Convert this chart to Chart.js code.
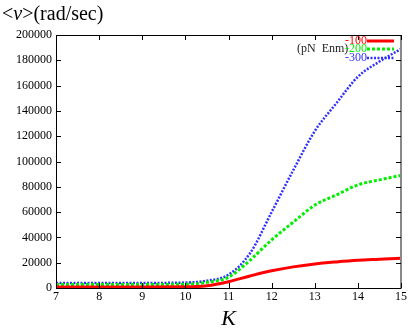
<!DOCTYPE html>
<html>
<head>
<meta charset="utf-8">
<script src="https://cdn.jsdelivr.net/npm/chart.js@4"></script>
<style>
  html, body { margin: 0; padding: 0; background: #fff; }
  #wrap { width: 409px; height: 336px; }
</style>
</head>
<body>
<div id="wrap"><canvas id="c" width="409" height="336"></canvas></div>
<script>
// values
const kValues = [7, 8, 9, 10, 10.5, 11, 11.5, 12, 12.5, 13, 13.5, 14, 14.5, 15];
const torque100 = [800, 800, 800, 900, 1800, 5000, 9500, 13600, 16700, 19000, 20600, 21900, 22700, 23500];
const torque200 = [2800, 2800, 2800, 3000, 4500, 8500, 22000, 38000, 52000, 65500, 73500, 81500, 85500, 89000];
const torque300 = [4000, 4000, 4000, 4300, 5800, 10500, 27500, 60000, 93000, 124000, 146000, 167000, 179000, 189000];
const seriesLabels = ['-100', '-200', '-300'];
const yTicks = [0, 20000, 40000, 60000, 80000, 100000, 120000, 140000, 160000, 180000, 200000];

const serif = '"Liberation Serif", "DejaVu Serif", serif';

function pts(ys) {
    return kValues.map((k, i) => ({ x: k, y: ys[i] }));
}

// gnuplot-style frame with inward ticks, legend and titles
const frame = {
    id: 'frame',
    afterDraw(chart) {
        const { ctx, chartArea: a, scales } = chart;
        ctx.save();
        ctx.strokeStyle = '#000';
        ctx.lineWidth = 1;
        ctx.beginPath();
        ctx.moveTo(a.left + 0.5, a.top);
        ctx.lineTo(a.left + 0.5, a.bottom + 0.5);
        ctx.lineTo(a.right, a.bottom + 0.5);
        ctx.moveTo(a.left, a.top + 0.5);
        ctx.lineTo(a.right, a.top + 0.5);
        ctx.stroke();
        ctx.strokeStyle = '#888';
        ctx.lineWidth = 2;
        ctx.beginPath();
        ctx.moveTo(a.right, a.top);
        ctx.lineTo(a.right, a.bottom + 1);
        ctx.stroke();

        ctx.strokeStyle = '#000';
        ctx.lineWidth = 1;
        ctx.beginPath();
        yTicks.forEach(v => {
            const y = Math.round(scales.y.getPixelForValue(v)) + 0.5;
            ctx.moveTo(a.left, y); ctx.lineTo(a.left + 5, y);
            ctx.moveTo(a.right, y); ctx.lineTo(a.right - 5, y);
        });
        for (let k = 7; k <= 15; k++) {
            const x = Math.round(scales.x.getPixelForValue(k)) + 0.5;
            ctx.moveTo(x, a.bottom); ctx.lineTo(x, a.bottom - 5);
            ctx.moveTo(x, a.top); ctx.lineTo(x, a.top + 5);
        }
        ctx.stroke();

        // legend
        ctx.font = '12px ' + serif;
        ctx.textBaseline = 'middle';
        ctx.fillStyle = '#222';
        ctx.textAlign = 'left';
        ctx.fillText('(pN  Enm)', 297, 49);
        const ds = chart.data.datasets;
        const rows = [41, 49, 58];
        ds.forEach((d, i) => {
            ctx.fillStyle = d.borderColor;
            ctx.textAlign = 'right';
            ctx.fillText(seriesLabels[i], 367, rows[i]);
            ctx.strokeStyle = d.borderColor;
            ctx.lineWidth = d.borderWidth;
            ctx.setLineDash(d.borderDash || []);
            ctx.beginPath();
            ctx.moveTo(367, rows[i]);
            ctx.lineTo(394, rows[i]);
            ctx.stroke();
            ctx.setLineDash([]);
        });

        // y title
        ctx.fillStyle = '#000';
        ctx.textAlign = 'left';
        ctx.textBaseline = 'alphabetic';
        ctx.font = '20px ' + serif;
        let x = 2;
        ctx.fillText('<', x, 20); x += ctx.measureText('<').width;
        ctx.font = 'italic 20px ' + serif;
        ctx.fillText('v', x, 20); x += ctx.measureText('v').width;
        ctx.font = '20px ' + serif;
        ctx.fillText('>(rad/sec)', x, 20);
        ctx.restore();
    }
};

new Chart(document.getElementById('c'), {
    type: 'line',
    data: {
        datasets: [{
            label: seriesLabels[0],
            data: pts(torque100),
            borderColor: '#ff0000',
            borderWidth: 3,
            pointRadius: 0,
            cubicInterpolationMode: 'monotone'
        }, {
            label: seriesLabels[1],
            data: pts(torque200),
            borderColor: '#00ee00',
            borderWidth: 3,
            borderDash: [3, 2],
            pointRadius: 0,
            cubicInterpolationMode: 'monotone'
        }, {
            label: seriesLabels[2],
            data: pts(torque300),
            borderColor: '#3030ff',
            borderWidth: 2.5,
            borderDash: [2, 1.5],
            pointRadius: 0,
            cubicInterpolationMode: 'monotone'
        }]
    },
    plugins: [frame],
    options: {
        responsive: false,
        animation: false,
        layout: { padding: { left: 0, right: 6, top: 35, bottom: 0 } },
        plugins: { legend: { display: false }, tooltip: { enabled: false } },
        scales: {
            x: {
                type: 'linear',
                min: 7,
                max: 15,
                grid: { display: false, drawTicks: false },
                border: { display: false },
                afterFit(s) { s.height = 48; },
                ticks: {
                    stepSize: 1,
                    padding: 2,
                    maxRotation: 0,
                    color: '#000',
                    font: { family: serif, size: 12 }
                },
                title: {
                    display: true,
                    text: 'K',
                    color: '#000',
                    padding: { top: 10 },
                    font: { family: serif, size: 22, style: 'italic' }
                }
            },
            y: {
                min: 0,
                max: 200000,
                grid: { display: false, drawTicks: false },
                border: { display: false },
                afterFit(s) { s.width = 56; },
                ticks: {
                    stepSize: 20000,
                    padding: 4,
                    color: '#000',
                    font: { family: serif, size: 12 },
                    callback: v => String(v)
                }
            }
        }
    }
});
</script>
</body>
</html>
